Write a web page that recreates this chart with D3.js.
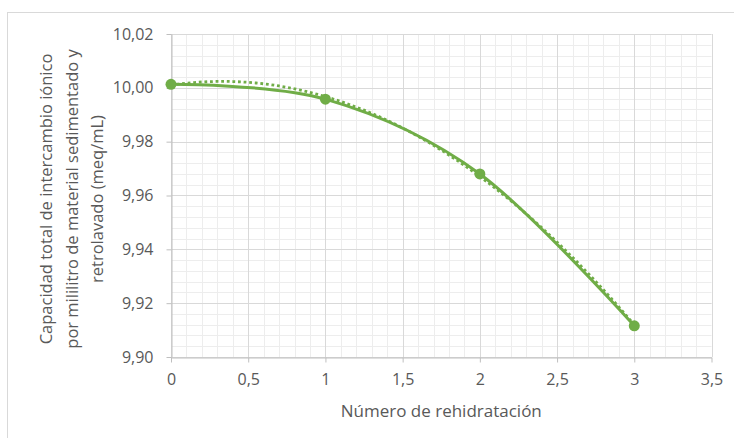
<!DOCTYPE html>
<html>
<head>
<meta charset="utf-8">
<script src="https://cdn.jsdelivr.net/npm/d3@7"></script>
<style>
  body { margin: 0; background: #fff; }
  svg { display: block; }
</style>
</head>
<body>
<svg id="chart" width="734" height="438"></svg>
<script>
// Series: total ion-exchange capacity per rehydration cycle
const rehydrations = [0, 1, 2, 3];
const capacity = [10.0013, 9.9958, 9.9680, 9.9116];

// Axis ticks
const xTicks = [0, 0.5, 1, 1.5, 2, 2.5, 3, 3.5];
const yTicks = [9.90, 9.92, 9.94, 9.96, 9.98, 10.00, 10.02];

// Titles
const xTitle = "Número de rehidratación";
const yTitleLines = [
  "Capacidad total de intercambio iónico",
  "por mililitro de material sedimentado y",
  "retrolavado (meq/mL)"
];

const W = 734, H = 438;
const margin = { left: 171, right: 22.5, top: 34, bottom: 81 };
const green = "#70AD47";
const font = "'Open Sans', sans-serif";

const es = d3.formatLocale({ decimal: ",", thousands: ".", grouping: [3], currency: ["", " €"] });
const fmtY = es.format(".2f");
const fmtX = es.format("~g");

const svg = d3.select("#chart");

// Chart area frame
svg.append("rect")
  .attr("x", 7.5).attr("y", 12.5)
  .attr("width", W + 10).attr("height", H + 10)
  .attr("fill", "#fff").attr("stroke", "#d9d9d9").attr("stroke-width", 1);

const x = d3.scaleLinear().domain([0, 3.5]).range([margin.left, W - margin.right]);
const y = d3.scaleLinear().domain([9.90, 10.02]).range([H - margin.bottom, margin.top]);

// Minor grid
const xMinor = d3.range(0, 3.5001, 0.1);
const yMinor = d3.range(9.90, 10.0201, 0.004);
const grid = svg.append("g");
grid.selectAll(".vminor").data(xMinor).join("line")
  .attr("x1", d => Math.round(x(d)) + 0.5).attr("x2", d => Math.round(x(d)) + 0.5)
  .attr("y1", y(10.02)).attr("y2", y(9.90))
  .attr("stroke", "#ededed");
grid.selectAll(".hminor").data(yMinor).join("line")
  .attr("x1", x(0)).attr("x2", x(3.5))
  .attr("y1", d => Math.round(y(d)) + 0.5).attr("y2", d => Math.round(y(d)) + 0.5)
  .attr("stroke", "#ededed");

// Major grid
grid.selectAll(".vmajor").data(xTicks).join("line")
  .attr("x1", d => Math.round(x(d)) + 0.5).attr("x2", d => Math.round(x(d)) + 0.5)
  .attr("y1", y(10.02)).attr("y2", y(9.90))
  .attr("stroke", "#d9d9d9");
grid.selectAll(".hmajor").data(yTicks).join("line")
  .attr("x1", x(0)).attr("x2", x(3.5))
  .attr("y1", d => Math.round(y(d)) + 0.5).attr("y2", d => Math.round(y(d)) + 0.5)
  .attr("stroke", "#d9d9d9");

// Axes
const xAxis = d3.axisBottom(x).tickValues(xTicks).tickFormat(fmtX).tickSizeInner(5).tickSizeOuter(0).tickPadding(11);
const yAxis = d3.axisLeft(y).tickValues(yTicks).tickFormat(fmtY).tickSizeInner(5).tickSizeOuter(0).tickPadding(13);

const gx = svg.append("g").attr("transform", `translate(0,${Math.round(y(9.90)) + 0.5})`).call(xAxis);
const gy = svg.append("g").attr("transform", `translate(${Math.round(x(0)) + 0.5},0)`).call(yAxis);
[gx, gy].forEach(g => {
  g.select(".domain").attr("stroke", "#bfbfbf");
  g.selectAll(".tick line").attr("stroke", "#bfbfbf");
  g.selectAll(".tick text").attr("fill", "#595959").style("font-family", font).style("font-size", "16px");
});

// Quadratic least-squares trendline
function polyFit(xs, ys, deg) {
  const n = deg + 1;
  const A = d3.range(n).map(i => d3.range(n + 1).map(j =>
    j < n ? d3.sum(xs, v => Math.pow(v, i + j)) : d3.sum(xs.map((v, k) => Math.pow(v, i) * ys[k]))));
  for (let c = 0; c < n; c++) {
    let p = c;
    for (let r = c + 1; r < n; r++) if (Math.abs(A[r][c]) > Math.abs(A[p][c])) p = r;
    [A[c], A[p]] = [A[p], A[c]];
    for (let r = 0; r < n; r++) {
      if (r === c) continue;
      const f = A[r][c] / A[c][c];
      for (let k = c; k <= n; k++) A[r][k] -= f * A[c][k];
    }
  }
  return d3.range(n).map(i => A[i][n] / A[i][i]);
}
const coef = polyFit(rehydrations, capacity, 2);
const trendFn = t => coef.reduce((s, c, i) => s + c * Math.pow(t, i), 0);
const trendX = d3.range(0, 3.0001, 0.05);

const pts = rehydrations.map((d, i) => [d, capacity[i]]);

// Smoothed series line
svg.append("path")
  .datum(pts)
  .attr("fill", "none").attr("stroke", green).attr("stroke-width", 3)
  .attr("stroke-linejoin", "round").attr("stroke-linecap", "round")
  .attr("d", d3.line().x(d => x(d[0])).y(d => y(d[1])).curve(d3.curveCardinal.tension(0)));

// Dotted polynomial trendline
svg.append("path")
  .datum(trendX)
  .attr("fill", "none").attr("stroke", green).attr("stroke-width", 2.8)
  .attr("stroke-dasharray", "2.8 2.8")
  .attr("d", d3.line().x(d => x(d)).y(d => y(trendFn(d))));

// Markers
svg.append("g").selectAll("circle").data(pts).join("circle")
  .attr("cx", d => x(d[0])).attr("cy", d => y(d[1])).attr("r", 5.5)
  .attr("fill", green);

// Axis titles
svg.append("text")
  .attr("x", x(1.75)).attr("y", 417)
  .attr("text-anchor", "middle")
  .attr("fill", "#595959").style("font-family", font).style("font-size", "17px")
  .text(xTitle);

const yt = svg.append("text")
  .attr("transform", `translate(0,199) rotate(-90)`)
  .attr("text-anchor", "middle")
  .attr("fill", "#595959").style("font-family", font).style("font-size", "16.5px");
yt.selectAll("tspan").data(yTitleLines).join("tspan")
  .attr("x", 0).attr("y", (d, i) => 52 + i * 25.7)
  .text(d => d);
</script>
</body>
</html>
